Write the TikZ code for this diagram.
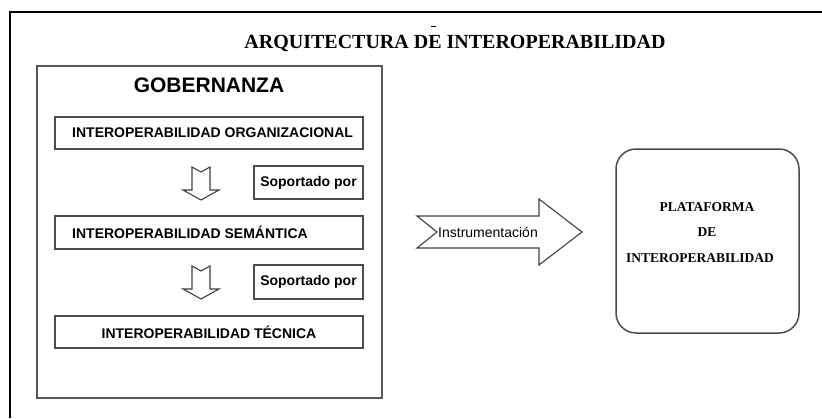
\documentclass[tikz,border=0pt]{standalone}
\usepackage{fontspec}
\setmainfont{Liberation Serif}
\setsansfont{Liberation Sans}
\begin{document}
\begin{tikzpicture}[x=1pt,y=-1pt,
  framestyle/.style={line width=2pt, black},
  govbox/.style={draw=black!65, line width=1.3pt},
  layerbox/.style={draw=black!70, line width=1.3pt},
  hollowarrow/.style={draw=black!75, line width=1.1pt, fill=white, line join=miter},
  platbox/.style={draw=black!70, line width=1.5pt, rounded corners=20pt},
  sanslabel/.style={font=\sffamily\bfseries\fontsize{14}{16}\selectfont, inner sep=0pt},
  seriflabel/.style={font=\rmfamily\bfseries\fontsize{13.5}{16}\selectfont, inner sep=0pt}
]
\useasboundingbox (0,0) rectangle (822,418);
% outer frame (top and left edges only)
\coordinate (ftl) at (10,12);
\coordinate (ftr) at (822,12);
\coordinate (fbl) at (10,418);
\draw[framestyle] (ftr) -- (ftl) -- (fbl);
% title
\node[font=\rmfamily\bfseries\fontsize{20}{22}\selectfont, inner sep=0pt] (title) at (455,43) {ARQUITECTURA DE INTEROPERABILIDAD};
\draw[line width=1pt] (431,26) -- (436,26);
% governance box
\draw[govbox] (37,66) rectangle (382,398);
\node[font=\sffamily\bfseries\fontsize{21}{23}\selectfont, inner sep=0pt] (gob) at (209,85) {GOBERNANZA};
% layer boxes
\draw[layerbox] (55,117) rectangle (363,149);
\node[sanslabel, anchor=west] (org) at (72,133) {INTEROPERABILIDAD ORGANIZACIONAL};
\draw[layerbox] (55,216) rectangle (363,249);
\node[sanslabel, anchor=west] (sem) at (72,232) {INTEROPERABILIDAD SEMÁNTICA};
\draw[layerbox] (55,316) rectangle (363,348);
\node[sanslabel] (tec) at (209,332) {INTEROPERABILIDAD TÉCNICA};
% soportado por boxes
\draw[layerbox] (254,166) rectangle (363,199);
\node[sanslabel] (sop1) at (308.5,182.5) {Soportado por};
\draw[layerbox] (254,265) rectangle (363,299);
\node[sanslabel] (sop2) at (308.5,282) {Soportado por};
% hollow down arrows
\foreach \dy in {0,99} {
  \draw[hollowarrow] (192,167+\dy) -- (201,172+\dy) -- (210,167+\dy) -- (210,190+\dy) -- (219,190+\dy)
     -- (201,200+\dy) -- (183,190+\dy) -- (192,190+\dy) -- cycle;
}
% instrumentation arrow
\draw[hollowarrow] (417,216) -- (539,216) -- (539,199) -- (582,232) -- (539,265) -- (539,248) -- (417,248) -- (437,232) -- cycle;
\node[font=\sffamily\fontsize{14}{16}\selectfont, inner sep=0pt] (inst) at (488,232) {Instrumentación};
% platform box
\draw[platbox] (616,149) rectangle (799,333);
\node[seriflabel] (p1) at (707,207) {PLATAFORMA};
\node[seriflabel] (p2) at (707,232) {DE};
\node[seriflabel] (p3) at (700,258) {INTEROPERABILIDAD};
\end{tikzpicture}
\end{document}
